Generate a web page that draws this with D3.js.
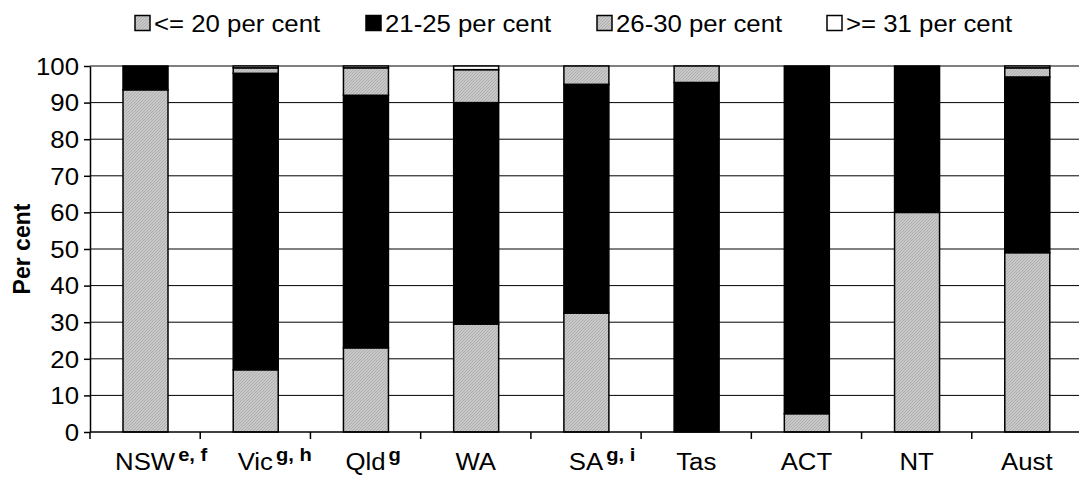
<!DOCTYPE html><html><head><meta charset="utf-8"><script src="https://cdn.jsdelivr.net/npm/d3@7"></script>
<style>body{margin:0;background:#fff;overflow:hidden}text{font-family:Arial,"Liberation Sans",sans-serif}</style></head><body><svg id="c" width="1079" height="481"></svg><script>
const categories=["NSW","Vic","Qld","WA","SA","Tas","ACT","NT","Aust"];
const sups=["e, f","g, h","g","","g, i","","","",""];
const seriesNames=["<= 20 per cent","21-25 per cent","26-30 per cent",">= 31 per cent"];
const s1=[93.5,17,23,29.5,32.5,0,5,60,49];
const s2=[6.5,81,69,60.5,62.5,95.5,95,40,48];
const s3=[0,1.5,7.5,9,5,4.5,0,0,2.5];
const s4=[0,0.5,0.5,1,0,0,0,0,0.5];
const yTicks=[0,10,20,30,40,50,60,70,80,90,100];
const fills=["url(#hatch)","#000","url(#hatch)","#fff"];
const svg=d3.select("#c");
const defs=svg.append("defs");
const p=defs.append("pattern").attr("id","hatch").attr("width",3).attr("height",3).attr("patternUnits","userSpaceOnUse");
p.append("rect").attr("width",3).attr("height",3).attr("fill","#c8c8c8");
p.append("path").attr("d","M0,3L3,0").attr("stroke","#a8a8a8").attr("stroke-width",0.8);
const L=90,R=1082,T=66,B=432;
const x=d3.scaleBand().domain(categories).range([L,R]);
const y=d3.scaleLinear().domain([0,100]).range([B,T]);
const g=svg.append("g");
yTicks.forEach(t=>{if(t>0)g.append("line").attr("x1",L).attr("x2",R).attr("y1",y(t)).attr("y2",y(t)).attr("stroke","#000").attr("stroke-width",1);});
const series=[s1,s2,s3,s4];
categories.forEach((c,i)=>{let acc=0;series.forEach((s,k)=>{const v=s[i];if(v<=0)return;
 g.append("rect").attr("x",x(c)+33).attr("width",45).attr("y",y(acc+v)).attr("height",y(acc)-y(acc+v)).attr("fill",fills[k]).attr("stroke","#000").attr("stroke-width",1.5);acc+=v;});});
const ya=svg.append("g").attr("transform",`translate(${L},0)`).call(d3.axisLeft(y).tickValues(yTicks).tickSize(6).tickPadding(5).tickSizeOuter(0));
ya.selectAll("text").style("font-size","23px").attr("fill","#000").attr("dy","0.36em");
ya.selectAll("line").attr("stroke-width",1.5);
ya.select(".domain").attr("stroke","#000").attr("stroke-width",1.5);
const xa=svg.append("g").attr("transform",`translate(0,${B})`);
xa.append("line").attr("x1",L).attr("x2",R).attr("stroke","#000").attr("stroke-width",1.5);
const stretch=[];
categories.forEach((c,i)=>{xa.append("line").attr("x1",x(c)).attr("x2",x(c)).attr("y2",7).attr("stroke","#000").attr("stroke-width",1.5);
 const cx=x(c)+x.bandwidth()/2;
 const t=xa.append("text").attr("x",cx).attr("y",38).attr("text-anchor","middle").style("font-size","23px").text(c);
 stretch.push(t);
 if(sups[i]){const w=t.node().getComputedTextLength()*1.12;
  const s=xa.append("text").attr("x",cx+w/2+3).attr("y",29).style("font-size","18px").style("font-weight","bold").text(sups[i]);stretch.push(s);}});
svg.append("text").attr("transform",`translate(30,${(T+B)/2}) rotate(-90)`).attr("text-anchor","middle").style("font-size","23px").style("font-weight","bold").text("Per cent");
const lx=[135,366,597,827];
seriesNames.forEach((n,k)=>{svg.append("rect").attr("x",lx[k]).attr("y",15.5).attr("width",15).attr("height",15).attr("fill",fills[k]).attr("stroke","#000").attr("stroke-width",1.5);
 stretch.push(svg.append("text").attr("x",lx[k]+19).attr("y",32).style("font-size","23px").text(n));});
ya.selectAll("text").each(function(){stretch.push(d3.select(this));});
stretch.forEach(t=>{const w=t.node().getComputedTextLength();t.attr("textLength",w*1.12).attr("lengthAdjust","spacingAndGlyphs");});
</script></body></html>
